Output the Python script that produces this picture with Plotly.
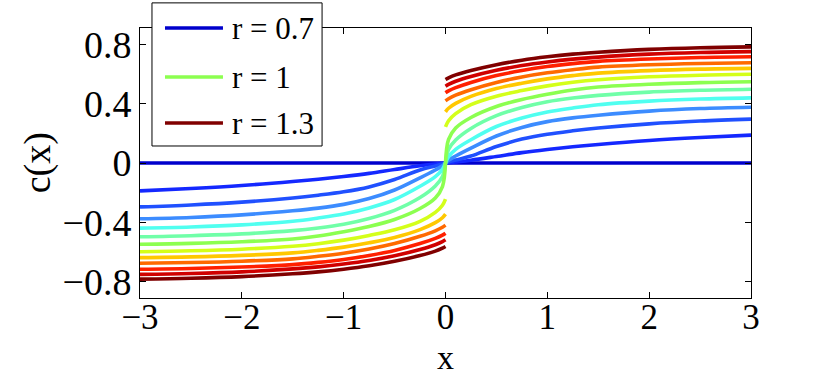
import plotly.graph_objects as go

# x positions (right half); the left half of every curve is the mirror image c(-x) = -c(x)
x_pos = [0, 0.03, 0.1, 0.25, 0.5, 0.75, 1.0, 1.25, 1.5, 2.0, 2.5, 3.0]

r_values = [0.7, 0.75, 0.8, 0.85, 0.9, 0.95, 1.0, 1.05, 1.1, 1.15, 1.2, 1.25, 1.3]

c_070 = [0, 0, 0, 0, 0, 0, 0, 0, 0, 0, 0, 0]
c_075 = [0, 0.002, 0.007, 0.019, 0.044, 0.070, 0.091, 0.109, 0.125, 0.152, 0.172, 0.188]
c_080 = [0, 0.007, 0.020, 0.047, 0.111, 0.161, 0.194, 0.217, 0.236, 0.264, 0.283, 0.296]
c_085 = [0, 0.019, 0.047, 0.100, 0.182, 0.240, 0.279, 0.304, 0.322, 0.350, 0.367, 0.376]
c_090 = [0, 0.043, 0.092, 0.157, 0.246, 0.303, 0.344, 0.371, 0.393, 0.417, 0.431, 0.439]
c_095 = [0, 0.091, 0.155, 0.233, 0.319, 0.374, 0.413, 0.438, 0.456, 0.478, 0.490, 0.497]
c_100 = [0, 0.159, 0.236, 0.307, 0.381, 0.428, 0.463, 0.492, 0.512, 0.531, 0.542, 0.548]
c_105 = [0.244, 0.285, 0.333, 0.393, 0.450, 0.488, 0.520, 0.544, 0.561, 0.581, 0.592, 0.598]
c_110 = [0.345, 0.369, 0.402, 0.449, 0.502, 0.538, 0.567, 0.589, 0.606, 0.623, 0.633, 0.638]
c_115 = [0.419, 0.433, 0.457, 0.494, 0.543, 0.580, 0.608, 0.629, 0.646, 0.662, 0.671, 0.676]
c_120 = [0.473, 0.486, 0.508, 0.543, 0.589, 0.623, 0.650, 0.670, 0.685, 0.701, 0.711, 0.716]
c_125 = [0.518, 0.530, 0.551, 0.583, 0.625, 0.657, 0.681, 0.700, 0.714, 0.734, 0.745, 0.751]
c_130 = [0.563, 0.574, 0.594, 0.624, 0.663, 0.693, 0.716, 0.734, 0.747, 0.766, 0.777, 0.783]

curves = [c_070, c_075, c_080, c_085, c_090, c_095, c_100,
          c_105, c_110, c_115, c_120, c_125, c_130]

colors = ['#0000CC', '#1428FF', '#2050FF', '#3C8CFF', '#50FFF0', '#70FFA8',
          '#8CFF50', '#D4FF1A', '#FFC800', '#FF6A00', '#FF2000', '#D00000',
          '#800000']

legend_r = [0.7, 1.0, 1.3]
legend_labels = ['r = 0.7', 'r = 1', 'r = 1.3']

serif = 'Liberation Serif'

fig = go.Figure()

for r, c, col in zip(r_values, curves, colors):
    # left half, a gap at x = 0, then the right half
    xs = [-v for v in reversed(x_pos)] + [None] + x_pos
    ys = [-v for v in reversed(c)] + [None] + c
    fig.add_trace(go.Scatter(
        x=xs, y=ys,
        mode='lines',
        line=dict(color=col, width=3.6, shape='spline', smoothing=1.0),
        connectgaps=False,
        name='r = %g' % r,
        showlegend=False,
    ))

# MATLAB-style legend box drawn in paper coordinates
fig.add_shape(type='rect', xref='paper', yref='paper',
              x0=0.0196, x1=0.298, y0=0.563, y1=1.093,
              line=dict(color='black', width=1), fillcolor='white', layer='above')
legend_y = [1.0, 0.8185, 0.648]
for lab, r, yy in zip(legend_labels, legend_r, legend_y):
    col = colors[r_values.index(r)]
    fig.add_shape(type='line', xref='paper', yref='paper',
                  x0=0.0409, x1=0.1358, y0=yy, y1=yy,
                  line=dict(color=col, width=3.6), layer='above')
    fig.add_annotation(text=lab, xref='paper', yref='paper',
                       x=0.1473, y=yy, xanchor='left', yanchor='middle',
                       showarrow=False, font=dict(family=serif, size=31, color='black'))

# axis titles
fig.add_annotation(text='x', xref='paper', yref='paper', x=0.5, y=-0.222,
                   xanchor='center', yanchor='middle', showarrow=False,
                   font=dict(family=serif, size=34, color='black'))
fig.add_annotation(text='c(x)', xref='paper', yref='paper', x=-0.168, y=0.5,
                   xanchor='center', yanchor='middle', textangle=-90, showarrow=False,
                   font=dict(family=serif, size=38, color='black'))

axis_style = dict(
    showline=True, linecolor='black', linewidth=1, mirror='ticks',
    ticks='inside', ticklen=6, tickcolor='black',
    showgrid=False, zeroline=False, automargin=False,
)

fig.update_xaxes(range=[-3, 3], tickvals=[-3, -2, -1, 0, 1, 2, 3],
                 ticktext=['\u22123', '\u22122', '\u22121', '0', '1', '2', '3'],
                 tickfont=dict(family=serif, size=35, color='black'),
                 ticklabelstandoff=-12, **axis_style)
fig.update_yaxes(range=[-0.91, 0.91], tickvals=[-0.8, -0.4, 0, 0.4, 0.8],
                 ticktext=['\u22120.8', '\u22120.4', '0', '0.4', '0.8'],
                 tickfont=dict(family=serif, size=38, color='black'),
                 **axis_style)

fig.update_layout(
    width=830, height=376,
    margin=dict(l=140, r=79, t=28, b=78),
    paper_bgcolor='white', plot_bgcolor='white',
    font=dict(family=serif, color='black'),
    showlegend=False,
)

fig.write_html("out.html", config={'displayModeBar': False},
               post_script="document.body.style.margin='0px';")
